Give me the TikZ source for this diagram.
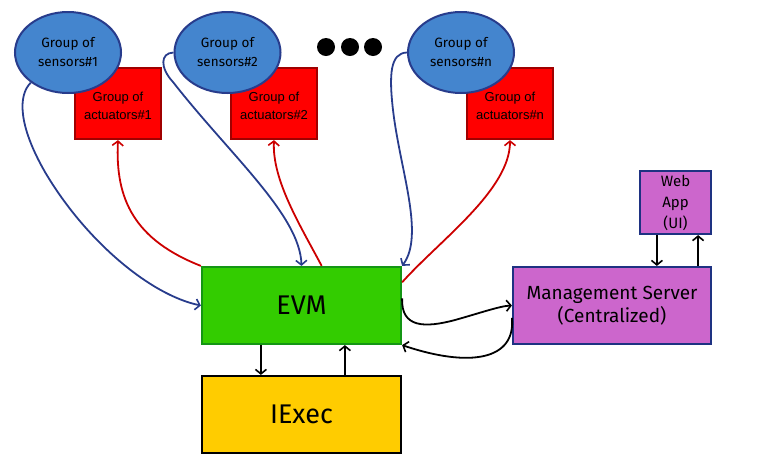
\documentclass[tikz,border=0pt]{standalone}
\usepackage{fontspec}
\setmainfont{Fira Sans}
\newfontfamily\arialfont{Liberation Sans}
\usetikzlibrary{shapes.geometric,arrows.meta}
\definecolor{sensfill}{RGB}{68,133,206}
\definecolor{sensdraw}{RGB}{40,60,140}
\definecolor{actfill}{RGB}{255,0,0}
\definecolor{actdraw}{RGB}{160,0,0}
\definecolor{redline}{RGB}{204,0,0}
\definecolor{evmfill}{RGB}{51,204,0}
\definecolor{evmdraw}{RGB}{20,150,20}
\definecolor{iexfill}{RGB}{255,204,0}
\definecolor{mgmtfill}{RGB}{204,102,204}
\definecolor{mgmtdraw}{RGB}{30,50,130}
\tikzset{
  sensor/.style={ellipse, fill=sensfill, draw=sensdraw, line width=2pt, minimum width=106pt, minimum height=81pt, inner sep=0pt, align=center, font=\fontsize{13.5}{19}\selectfont},
  actuator/.style={rectangle, fill=actfill, draw=actdraw, line width=2.2pt, minimum width=86pt, minimum height=71pt, inner sep=0pt, align=center, font=\arialfont\fontsize{13}{17.5}\selectfont},
  bigbox/.style={rectangle, line width=2.2pt, minimum width=199pt, minimum height=77pt, inner sep=0pt, align=center},
  dotc/.style={circle, fill=black, minimum size=18pt, inner sep=0pt},
  conn/.style={line width=1.8pt, -{Straight Barb[length=4.5pt,width=11pt,line width=1.6pt]}},
  blueconn/.style={conn, draw=sensdraw},
  redconn/.style={conn, draw=redline},
  blackconn/.style={conn, draw=black},
}
\begin{document}
\begin{tikzpicture}[x=1pt,y=-1pt]
\useasboundingbox (0,0) rectangle (778,467);
% actuators
\node[actuator] (a1) at (118,103.5) {\\[-3pt]Group of\\actuators\#1};
\node[actuator] (a2) at (274,103.5) {\\[-3pt]Group of\\actuators\#2};
\node[actuator] (an) at (510,103.5) {\\[-3pt]Group of\\actuators\#n};
% sensors
\node[sensor] (s1) at (68,52.5) {Group of\\sensors\#1};
\node[sensor] (s2) at (227.5,52.5) {Group of\\sensors\#2};
\node[sensor] (sn) at (461,52.5) {Group of\\sensors\#n};
% dots
\node[dotc] (d1) at (326,47) {};
\node[dotc] (d2) at (350,47) {};
\node[dotc] (d3) at (373,47) {};
% main boxes
\node[bigbox, fill=evmfill, draw=evmdraw, font=\fontsize{27}{30}\selectfont] (evm) at (301.5,305.5) {EVM};
\node[bigbox, fill=iexfill, draw=black, font=\fontsize{27}{30}\selectfont] (iexec) at (301.5,414.5) {IExec};
\node[bigbox, minimum width=198pt, fill=mgmtfill, draw=mgmtdraw, font=\fontsize{19}{23}\selectfont] (mgmt) at (612,305.5) {Management Server\\(Centralized)};
\node[rectangle, line width=2.2pt, fill=mgmtfill, draw=mgmtdraw, minimum width=71pt, minimum height=63pt, inner sep=0pt, align=center, font=\fontsize{15}{21}\selectfont] (web) at (675.5,202.5) {Web\\App\\(UI)};
% sensor connectors
\draw[blueconn] (s1.219) .. controls (18,95) and (18,125) .. (45,172) .. controls (85,240) and (150,295) .. (evm.west);
\draw[blueconn] (s2.west) .. controls (160,53) and (160,68) .. (173,82) .. controls (230,155) and (300,215) .. (evm.north);
\draw[blueconn] (sn.west) .. controls (390,53) and (389,75) .. (393,110) .. controls (400,170) and (425,235) .. (evm.north east);
% actuator connectors
\draw[redconn] (evm.north west) .. controls (135,240) and (115,200) .. (a1.south);
\draw[redconn] (evm.63) .. controls (300,225) and (272,180) .. (a2.south);
\draw[redconn] (evm.13) .. controls (440,240) and (510,190) .. (an.south);
% EVM <-> IExec
\draw[blackconn] ([xshift=60pt]evm.south west) -- ([xshift=60pt]iexec.north west);
\draw[blackconn] ([xshift=144pt]iexec.north west) -- ([xshift=144pt]evm.south west);
% EVM <-> Management
\draw[blackconn] (evm.4) .. controls (401,328) and (425,328) .. (455,320) .. controls (480,313) and (500,306) .. (mgmt.west);
\draw[blackconn] (mgmt.187) .. controls (516,360) and (470,368) .. (evm.south east);
% Management <-> Web
\draw[blackconn] ([xshift=18pt]web.south west) -- ([xshift=145pt]mgmt.north west);
\draw[blackconn] ([xshift=-14pt]mgmt.north east) -- ([xshift=-14pt]web.south east);
\end{tikzpicture}
\end{document}
